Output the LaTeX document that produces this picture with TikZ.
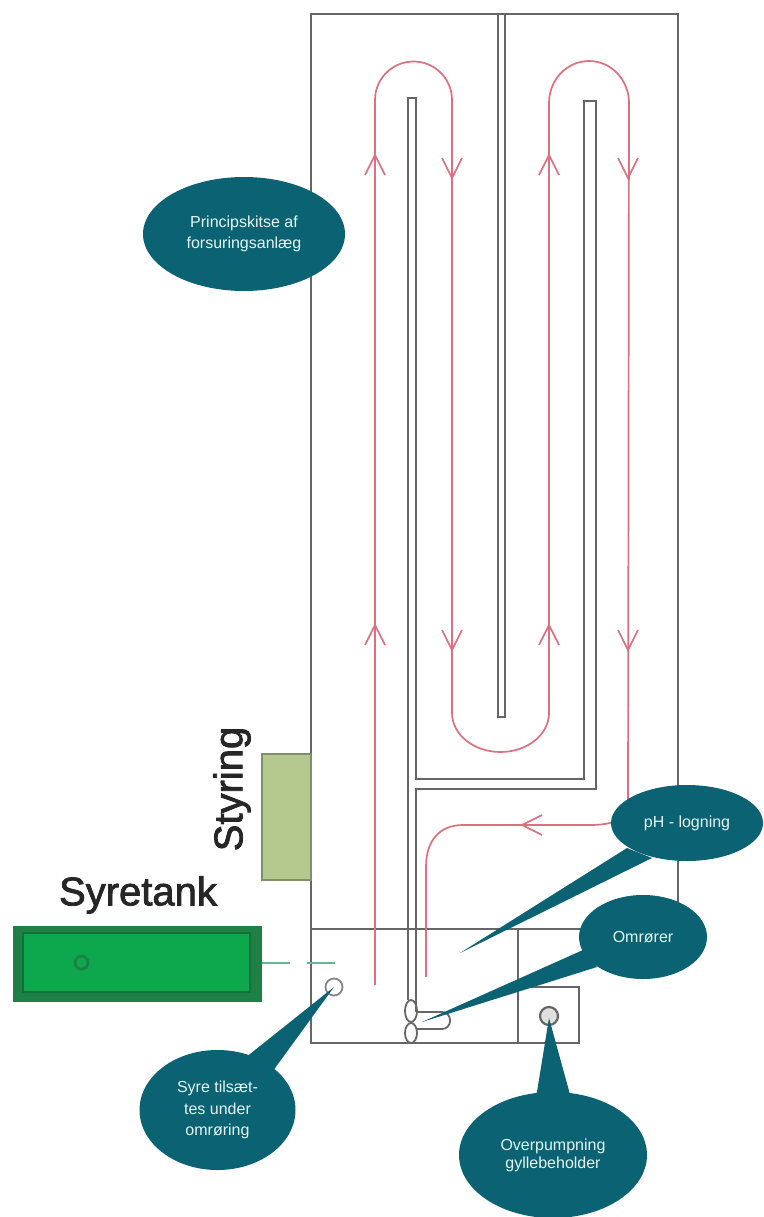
\documentclass[tikz,border=0pt]{standalone}
\usepackage{fontspec}
\setmainfont{Liberation Sans}
\newfontfamily\heavyfont[FakeBold=2]{Liberation Sans}
\definecolor{teal}{HTML}{0B6272}
\definecolor{wallc}{HTML}{666666}
\definecolor{flowc}{HTML}{DE6F7E}
\definecolor{tankc}{HTML}{0DA84E}
\definecolor{tankm}{HTML}{1F8045}
\definecolor{tankb}{HTML}{146F38}
\definecolor{dashc}{HTML}{6CB78A}
\definecolor{ctrlc}{HTML}{B5C98F}
\definecolor{ctrlb}{HTML}{7F8F6A}
\definecolor{bubtext}{HTML}{E4F6F6}
\tikzset{
  wall/.style={draw=wallc,line width=1.8pt,line join=miter},
  flow/.style={draw=flowc,line width=1.7pt},
  bubble/.style={ellipse,fill=teal,text=bubtext,align=center,inner sep=0pt,font=\fontsize{16}{18}\selectfont},
  tail/.style={fill=teal,draw=none},
  title/.style={font=\heavyfont\fontsize{40}{40}\selectfont,text=black!85,inner sep=0pt},
  vee/.pic={\draw[flow,line join=miter] (-10,20)--(0,0)--(10,20);}
}
\usetikzlibrary{shapes.geometric}
\begin{document}
\begin{tikzpicture}[x=1pt,y=-1pt]
\useasboundingbox (0,0) rectangle (763,1217);
% outer tank
\draw[wall] (311,930)--(311,14)--(678,14)--(678,930);
\draw[wall] (311,930)--(311,1043)--(579,1043)--(579,987)--(518,987);
\draw[wall] (311,929)--(678,929);
\draw[wall] (518,929)--(518,1043);
% partitions
\draw[wall] (498,14)--(498,717)--(505,717)--(505,14);
\draw[wall] (408,1000)--(408,98)--(416,98)--(416,779)--(584,779)--(584,101)--(596,101)--(596,789)--(416,789)--(416,1012);
% flow
\draw[flow] (375,985)--(375,100) arc[start angle=180,end angle=360,radius=38.5] --(452,713)
  arc[start angle=180,end angle=0,x radius=48.5,y radius=39] --(549,103)
  arc[start angle=180,end angle=360,x radius=40,y radius=42] --(628,805)
  .. controls (628,818) and (615,825) .. (590,825) -- (463,825)
  .. controls (440,825) and (426,840) .. (426,867) -- (426,977);
\foreach \px/\py/\ang in {375/155/0,375/625/0,549/155/0,549/625/0,452/178/180,452/650/180,628/178/180,628/650/180,522/825/90}
  \pic[rotate=\ang] at (\px,\py) {vee};
% control
\node[draw=ctrlb,fill=ctrlc,line width=1.2pt,minimum width=49pt,minimum height=126pt,inner sep=0pt] (ctrl) at (286.5,817) {};
\node[title,rotate=90] (styring) at (232,789) {Styring};
% acid tank
\node[draw=tankm,fill=tankm,line width=1pt,minimum width=248pt,minimum height=75pt,inner sep=0pt] (tank) at (137.5,964) {};
\node[draw=tankb,fill=tankc,line width=2.5pt,minimum width=227pt,minimum height=59pt,inner sep=0pt] (tankin) at (136.5,962.5) {};
\node[title] (syretank) at (138,895) {Syretank};
\node[draw=tankm,fill=tankc,circle,line width=2.8pt,minimum size=13pt,inner sep=0pt] (tankport) at (81.5,962.7) {};
\coordinate (dosing) at (337,962.7);
\draw[draw=dashc,line width=1.8pt,dash pattern=on 28pt off 17pt] (tank.east |- dosing) -- (dosing);
% inlet rings
\node[circle,draw=wallc!80,fill=white,line width=1.8pt,minimum size=17pt,inner sep=0pt] (acid) at (334,987) {};
\node[circle,draw=wallc,fill=black!12,line width=2.2pt,minimum size=18pt,inner sep=0pt] (pump) at (549,1016) {};
% mixer
\draw[wall,rounded corners=8pt] (416,1012)--(450,1012)--(450,1029)--(416,1029);
\draw[wall] (411,1011) ellipse[x radius=6,y radius=11];
\draw[wall] (411,1033) ellipse[x radius=6,y radius=10];
% callouts
\path[tail] (627,848)--(460,953)--(652,858)--cycle;
\path[tail] (583,950)--(422,1022)--(597,967)--cycle;
\path[tail] (245,1058)--(334,987)--(270,1075)--cycle;
\path[tail] (536,1098)--(549,1018)--(571,1098)--cycle;
\node[bubble,minimum width=202pt,minimum height=114pt,font=\fontsize{16}{21.5}\selectfont] (b1) at (244,234) {Principskitse af\\forsuringsanlæg};
\node[bubble,minimum width=152pt,minimum height=76pt] (b2) at (687,823) {pH - logning};
\node[bubble,minimum width=128pt,minimum height=84pt] (b3) at (643,937) {Omrører};
\node[bubble,minimum width=156pt,minimum height=120pt,font=\fontsize{16}{21.5}\selectfont] (b4) at (217.5,1110) {Syre tilsæt-\\tes under\\omrøring};
\node[bubble,minimum width=188pt,minimum height=126pt] (b5) at (553,1155) {Overpumpning\\gyllebeholder};
\end{tikzpicture}
\end{document}
